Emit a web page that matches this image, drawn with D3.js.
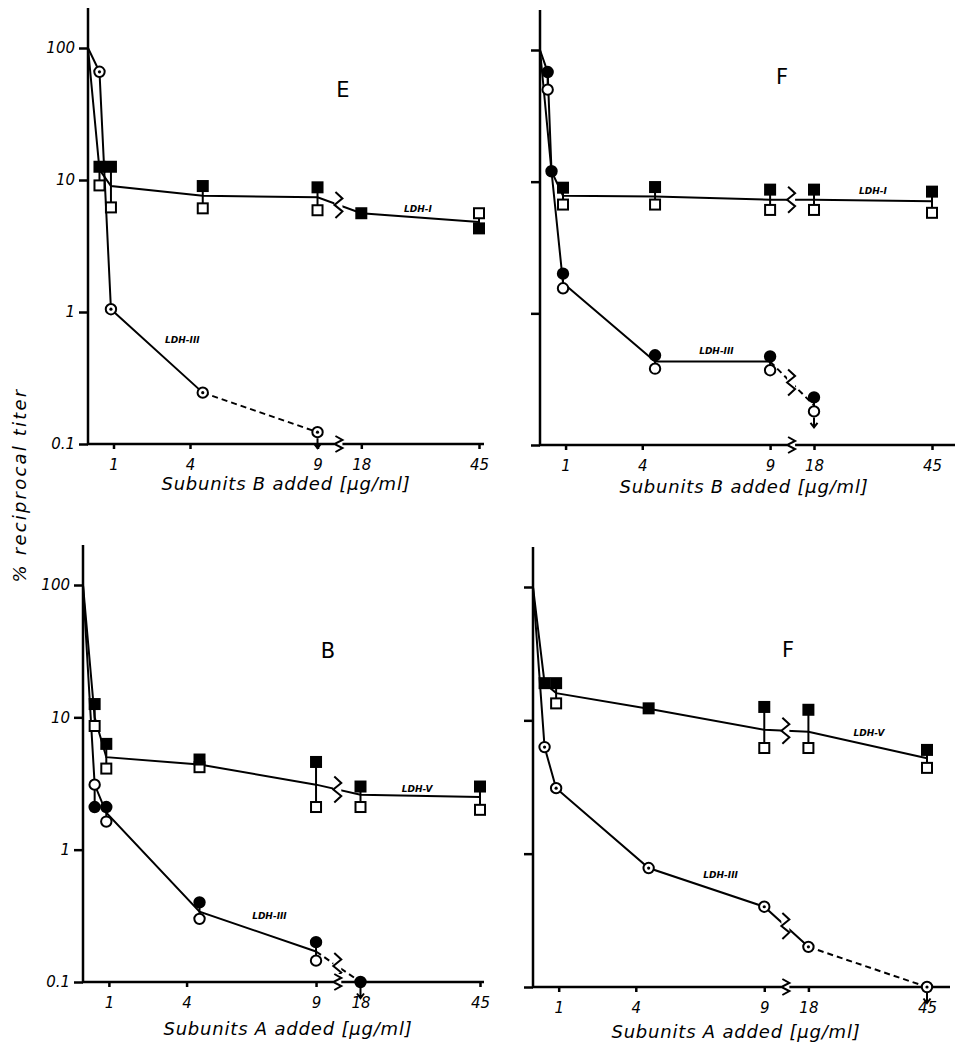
<!DOCTYPE html>
<html>
<head>
<meta charset="utf-8">
<script src="https://cdn.jsdelivr.net/npm/d3@7"></script>
<style>
  body { margin: 0; background: #fff; }
  svg text { font-family: "DejaVu Sans", sans-serif; fill: #000; }
</style>
</head>
<body>
<svg width="955" height="1051"></svg>
<script>
// ticks and titles
const xTickValues = [1, 4, 9, 18, 45];
const yTickValues = [100, 10, 1, 0.1];
const yTickLabels = ['100', '10', '1', '0.1'];
const panelLetters = ['E', 'F', 'B', 'F'];
const xAxisTitles = ['Subunits B added [µg/ml]', 'Subunits B added [µg/ml]',
                     'Subunits A added [µg/ml]', 'Subunits A added [µg/ml]'];
const yAxisTitle = '% reciprocal titer';

// panel E : subunits B added
const eLdh1X = [0.45, 0.9, 4.5, 9, 18, 45];
const eLdh1Filled = [12.6, 12.6, 9.0, 8.8, 5.6, 4.3];
const eLdh1Open = [9.1, 6.2, 6.1, 5.9, null, 5.6];
const eLdh1Mean = [12, 9, 7.6, 7.4, 5.6, 4.8];
const eLdh3X = [0.45, 0.9, 4.5, 9];
const eLdh3Dotted = [66, 1.05, 0.245, 0.123];

// panel F : subunits B added
const fbLdh1X = [0.45, 0.9, 4.5, 9, 18, 45];
const fbLdh1Filled = [null, 9.0, 9.1, 8.7, 8.7, 8.4];
const fbLdh1Open = [null, 6.7, 6.7, 6.1, 6.1, 5.8];
const fbLdh1Mean = [12, 7.8, 7.7, 7.3, 7.3, 7.1];
const fbLdh3X = [0.3, 0.45, 0.9, 4.5, 9, 18];
const fbLdh3Filled = [68, 12, 2.0, 0.48, 0.47, 0.23];
const fbLdh3Open = [50, null, 1.55, 0.38, 0.37, 0.18];
const fbLdh3Mean = [68, 12, 1.7, 0.43, 0.43, 0.2];

// panel B : subunits A added
const bLdh5X = [0.45, 0.9, 4.5, 9, 18, 45];
const bLdh5Filled = [12.6, 6.3, 4.8, 4.6, 3.0, 3.0];
const bLdh5Open = [8.6, 4.1, 4.2, 2.1, 2.1, 2.0];
const bLdh5Mean = [10, 5.0, 4.4, 3.1, 2.6, 2.5];
const bLdh3X = [0.45, 0.9, 4.5, 9, 18];
const bLdh3Filled = [2.1, 2.1, 0.40, 0.20, 0.1];
const bLdh3Open = [3.1, 1.63, 0.30, 0.145, null];
const bLdh3Mean = [3.1, 1.9, 0.34, 0.17, 0.1];

// panel F : subunits A added
const faLdh5X = [0.45, 0.9, 4.5, 9, 18, 45];
const faLdh5Filled = [19, 19, 12.3, 12.6, 12, 6.0];
const faLdh5Open = [null, 13.4, null, 6.2, 6.2, 4.4];
const faLdh5Mean = [19, 16, 12.2, 8.5, 8.2, 5.2];
const faLdh3X = [0.45, 0.9, 4.5, 9, 18, 45];
const faLdh3Dotted = [6.3, 3.1, 0.78, 0.40, 0.2, 0.1];

const panels = [
  { ox: 88, y100: 48, y01: 444, w: 391, axisEnd: 484, yLabels: true,
    letterPos: [343, 97], titlePos: [286, 490],
    series: [
      { x: eLdh1X, filled: eLdh1Filled, open: eLdh1Open, mean: eLdh1Mean, shape: 'square',
        label: 'LDH-I', labelAt: [31, 5.7] },
      { x: eLdh3X, dotted: eLdh3Dotted, mean: eLdh3Dotted, shape: 'circle', dashFrom: 4.5, arrow: true,
        label: 'LDH-III', labelAt: [3.7, 0.58] }
    ] },
  { ox: 540, y100: 50, y01: 445, w: 392, axisEnd: 955, yLabels: false,
    letterPos: [782, 84], titlePos: [744, 493],
    series: [
      { x: fbLdh1X, filled: fbLdh1Filled, open: fbLdh1Open, mean: fbLdh1Mean, shape: 'square',
        label: 'LDH-I', labelAt: [31.5, 8.1] },
      { x: fbLdh3X, filled: fbLdh3Filled, open: fbLdh3Open, mean: fbLdh3Mean, shape: 'circle', dashFrom: 9, arrow: true,
        label: 'LDH-III', labelAt: [6.9, 0.49] }
    ] },
  { ox: 83, y100: 585, y01: 982, w: 397, axisEnd: 484, yLabels: true,
    letterPos: [328, 658], titlePos: [288, 1035],
    series: [
      { x: bLdh5X, filled: bLdh5Filled, open: bLdh5Open, mean: bLdh5Mean, shape: 'square',
        label: 'LDH-V', labelAt: [30.8, 2.75] },
      { x: bLdh3X, filled: bLdh3Filled, open: bLdh3Open, mean: bLdh3Mean, shape: 'circle', dashFrom: 9, arrow: true,
        label: 'LDH-III', labelAt: [7.2, 0.3] }
    ] },
  { ox: 533, y100: 587, y01: 987, w: 394, axisEnd: 950, yLabels: false,
    letterPos: [788, 657], titlePos: [736, 1038],
    series: [
      { x: faLdh5X, filled: faLdh5Filled, open: faLdh5Open, mean: faLdh5Mean, shape: 'square',
        label: 'LDH-V', labelAt: [31.8, 7.6] },
      { x: faLdh3X, dotted: faLdh3Dotted, mean: faLdh3Dotted, shape: 'circle', dashFrom: 18, arrow: true,
        label: 'LDH-III', labelAt: [7.3, 0.66] }
    ] }
];

const svg = d3.select('svg');

// small vertical zigzag used for the scale breaks
function zigzag(g, cx, cy, h) {
  g.append('rect')
    .attr('x', cx - 4).attr('y', cy - h / 2)
    .attr('width', 8).attr('height', h)
    .attr('fill', '#fff');
  const q = h / 4;
  g.append('path')
    .attr('d', `M${cx - 3},${cy - 2 * q} L${cx + 4},${cy - q} L${cx - 4},${cy} L${cx + 4},${cy + q} L${cx - 3},${cy + 2 * q}`)
    .attr('fill', 'none').attr('stroke', '#000').attr('stroke-width', 2);
}

function drawPanel(p, i) {
  const x = d3.scaleLinear()
    .domain([0, 9, 18, 45])
    .range([p.ox, p.ox + p.w * 0.587, p.ox + p.w * 0.699, p.ox + p.w]);
  const y = d3.scaleLog().domain([0.1, 100]).range([p.y01, p.y100]);
  const breakX = x(13.3);

  const g = svg.append('g');

  // y axis
  const yAxis = d3.axisLeft(y)
    .tickValues(yTickValues)
    .tickSize(9)
    .tickPadding(4)
    .tickFormat((d, k) => p.yLabels ? yTickLabels[k] : '');
  const yg = g.append('g')
    .attr('transform', `translate(${p.ox},0)`)
    .call(yAxis)
    .attr('font-size', 15)
    .attr('font-family', null)
    .attr('font-style', 'italic');
  yg.select('.domain').remove();
  yg.selectAll('.tick line').attr('stroke-width', 2.5);

  g.append('line')
    .attr('x1', p.ox).attr('x2', p.ox)
    .attr('y1', p.y100 - 40).attr('y2', p.y01 + 1)
    .attr('stroke', '#000').attr('stroke-width', 2.5);

  // x axis
  const xAxis = d3.axisBottom(x)
    .tickValues(xTickValues)
    .tickSize(5)
    .tickPadding(10)
    .tickFormat(d3.format('d'));
  const xg = g.append('g')
    .attr('transform', `translate(0,${p.y01})`)
    .call(xAxis)
    .attr('font-size', 15)
    .attr('font-family', null)
    .attr('font-style', 'italic');
  xg.select('.domain').remove();
  xg.selectAll('.tick line').attr('stroke-width', 2.5);

  g.append('line')
    .attr('x1', p.ox - 1).attr('x2', p.axisEnd)
    .attr('y1', p.y01).attr('y2', p.y01)
    .attr('stroke', '#000').attr('stroke-width', 2.5);

  const line = d3.line().x(d => x(d[0])).y(d => y(d[1]));

  // lines
  p.series.forEach(s => {
    const pts = [[0, 100]].concat(s.x.map((xv, k) => [xv, s.mean[k]]));
    const cut = s.dashFrom != null ? s.dashFrom : Infinity;
    g.append('path')
      .attr('d', line(pts.filter(d => d[0] <= cut)))
      .attr('fill', 'none').attr('stroke', '#000').attr('stroke-width', 2);
    const dashed = pts.filter(d => d[0] >= cut);
    if (dashed.length > 1) {
      g.append('path')
        .attr('d', line(dashed))
        .attr('fill', 'none').attr('stroke', '#000').attr('stroke-width', 2)
        .attr('stroke-dasharray', '6,4');
    }
  });

  // breaks on lines that cross from 9 to 18
  p.series.forEach(s => {
    const k9 = s.x.indexOf(9), k18 = s.x.indexOf(18);
    if (k9 < 0 || k18 < 0) return;
    const y9 = y(s.mean[k9]), y18 = y(s.mean[k18]);
    const t = (breakX - x(9)) / (x(18) - x(9));
    zigzag(g, breakX, y9 + (y18 - y9) * t, 26);
  });
  zigzag(g, breakX, p.y01, 16);

  // connectors between filled and open markers
  p.series.forEach(s => {
    if (!s.filled || !s.open) return;
    s.x.forEach((xv, k) => {
      if (s.filled[k] == null || s.open[k] == null) return;
      g.append('line')
        .attr('x1', x(xv)).attr('x2', x(xv))
        .attr('y1', y(s.filled[k])).attr('y2', y(s.open[k]))
        .attr('stroke', '#000').attr('stroke-width', 2);
    });
  });

  // arrows under last point
  p.series.forEach(s => {
    if (!s.arrow) return;
    const k = s.x.length - 1;
    const vals = [s.filled, s.open, s.dotted].filter(a => a).map(a => a[k]).filter(v => v != null);
    const cx = x(s.x[k]), cy = y(d3.min(vals)) + 6;
    g.append('path')
      .attr('d', `M${cx},${cy} V${cy + 10} M${cx - 3.5},${cy + 5.5} L${cx},${cy + 10} L${cx + 3.5},${cy + 5.5}`)
      .attr('fill', 'none').attr('stroke', '#000').attr('stroke-width', 2);
  });

  // markers
  p.series.forEach(s => {
    const mk = (vals, kind) => {
      if (!vals) return;
      s.x.forEach((xv, k) => {
        if (vals[k] == null) return;
        const cx = x(xv), cy = y(vals[k]);
        if (s.shape === 'square') {
          g.append('rect')
            .attr('x', cx - 5).attr('y', cy - 5)
            .attr('width', 10).attr('height', 10)
            .attr('fill', kind === 'filled' ? '#000' : '#fff')
            .attr('stroke', '#000').attr('stroke-width', 2);
        } else {
          g.append('circle')
            .attr('cx', cx).attr('cy', cy).attr('r', 5.2)
            .attr('fill', kind === 'filled' ? '#000' : '#fff')
            .attr('stroke', '#000').attr('stroke-width', 2);
          if (kind === 'dotted') {
            g.append('circle')
              .attr('cx', cx).attr('cy', cy).attr('r', 1.6)
              .attr('fill', '#000');
          }
        }
      });
    };
    mk(s.open, 'open');
    mk(s.dotted, 'dotted');
    mk(s.filled, 'filled');
  });

  // series labels
  p.series.forEach(s => {
    g.append('text')
      .attr('x', x(s.labelAt[0]))
      .attr('y', y(s.labelAt[1]))
      .attr('text-anchor', 'middle')
      .attr('font-size', 9)
      .attr('font-weight', 'bold')
      .attr('font-style', 'italic')
      .text(s.label);
  });

  // panel letter and axis title
  g.append('text')
    .attr('x', p.letterPos[0]).attr('y', p.letterPos[1])
    .attr('text-anchor', 'middle')
    .attr('font-size', 21)
    .text(panelLetters[i]);

  g.append('text')
    .attr('x', p.titlePos[0]).attr('y', p.titlePos[1])
    .attr('text-anchor', 'middle')
    .attr('font-size', 18)
    .attr('font-style', 'italic')
    .attr('letter-spacing', 0.8)
    .text(xAxisTitles[i]);
}

panels.forEach(drawPanel);

svg.append('text')
  .attr('transform', 'translate(26,485) rotate(-90)')
  .attr('text-anchor', 'middle')
  .attr('font-size', 18)
  .attr('font-style', 'italic')
  .attr('letter-spacing', 2.2)
  .text(yAxisTitle);
</script>
</body>
</html>
